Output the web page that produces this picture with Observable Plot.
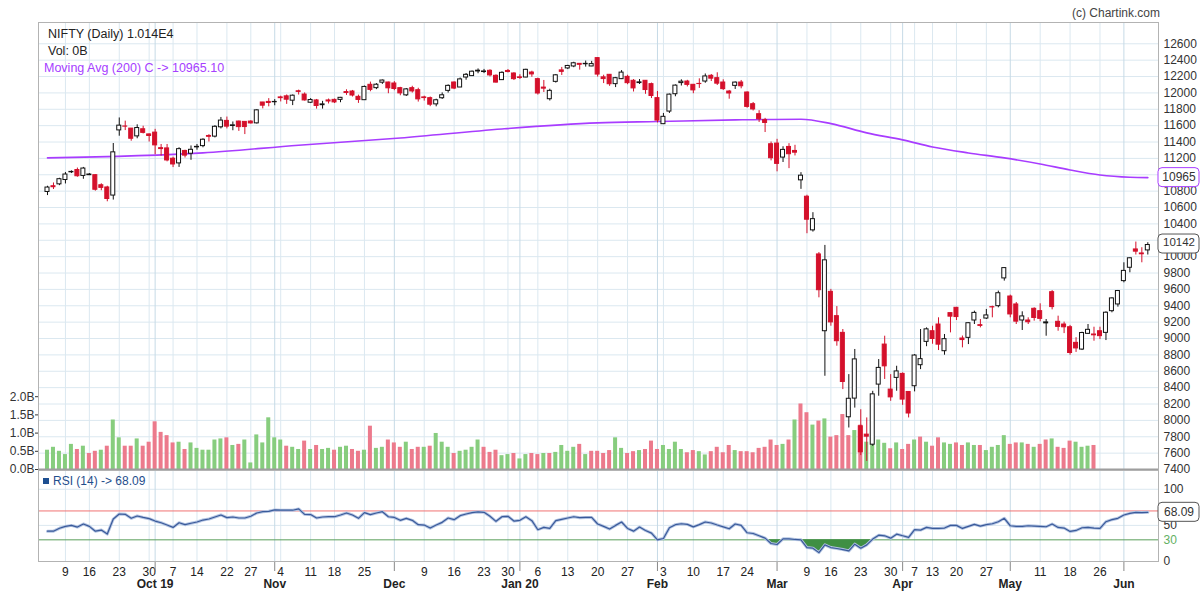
<!DOCTYPE html>
<html><head><meta charset="utf-8">
<script src="https://cdn.jsdelivr.net/npm/d3@7"></script>
<script src="https://cdn.jsdelivr.net/npm/@observablehq/plot@0.6"></script>
<style>
body{margin:0;background:#fff;font-family:"Liberation Sans",Arial,sans-serif;}
#wrap{position:relative;width:1200px;height:600px;overflow:hidden;background:#fff;}
#wrap svg{position:absolute;left:0;top:0;}
.lbl{position:absolute;font-size:12.5px;line-height:14px;white-space:nowrap;color:#222;}
</style></head><body>
<div id="wrap">
  <div class="lbl" style="right:40px;top:6px;font-size:12px;color:#444;">(c) Chartink.com</div>
  <div class="lbl" style="left:48px;top:27px;">NIFTY (Daily) 1.014E4</div>
  <div class="lbl" style="left:48px;top:44px;">Vol: 0B</div>
  <div class="lbl" style="left:44px;top:61px;color:#a640ff;">Moving Avg (200) C -&gt; 10965.10</div>
  <div class="sq" style="position:absolute;left:43px;top:478px;width:6px;height:6px;background:#1d4f91;"></div>
  <div class="lbl" style="left:53px;top:474px;font-size:12px;color:#1f4e8c;">RSI (14) -&gt; 68.09</div>
</div>
<script>
const dates = [
"2019-09-04","2019-09-05","2019-09-06","2019-09-09","2019-09-11","2019-09-12","2019-09-13","2019-09-16","2019-09-17","2019-09-18","2019-09-19","2019-09-20","2019-09-23","2019-09-24","2019-09-25","2019-09-26","2019-09-27","2019-09-30",
"2019-10-01","2019-10-03","2019-10-04","2019-10-07","2019-10-09","2019-10-10","2019-10-11","2019-10-14","2019-10-15","2019-10-16","2019-10-17","2019-10-18","2019-10-22","2019-10-23","2019-10-24","2019-10-25","2019-10-27","2019-10-29","2019-10-30","2019-10-31",
"2019-11-01","2019-11-04","2019-11-05","2019-11-06","2019-11-07","2019-11-08","2019-11-11","2019-11-13","2019-11-14","2019-11-15","2019-11-18","2019-11-19","2019-11-20","2019-11-21","2019-11-22","2019-11-25","2019-11-26","2019-11-27","2019-11-28","2019-11-29",
"2019-12-02","2019-12-03","2019-12-04","2019-12-05","2019-12-06","2019-12-09","2019-12-10","2019-12-11","2019-12-12","2019-12-13","2019-12-16","2019-12-17","2019-12-18","2019-12-19","2019-12-20","2019-12-23","2019-12-24","2019-12-26","2019-12-27","2019-12-30","2019-12-31",
"2020-01-01","2020-01-02","2020-01-03","2020-01-06","2020-01-07","2020-01-08","2020-01-09","2020-01-10","2020-01-13","2020-01-14","2020-01-15","2020-01-16","2020-01-17","2020-01-20","2020-01-21","2020-01-22","2020-01-23","2020-01-24","2020-01-27","2020-01-28","2020-01-29","2020-01-30","2020-01-31",
"2020-02-01","2020-02-03","2020-02-04","2020-02-05","2020-02-06","2020-02-07","2020-02-10","2020-02-11","2020-02-12","2020-02-13","2020-02-14","2020-02-17","2020-02-18","2020-02-19","2020-02-20","2020-02-24","2020-02-25","2020-02-26","2020-02-27","2020-02-28",
"2020-03-02","2020-03-03","2020-03-04","2020-03-05","2020-03-06","2020-03-09","2020-03-11","2020-03-12","2020-03-13","2020-03-16","2020-03-17","2020-03-18","2020-03-19","2020-03-20","2020-03-23","2020-03-24","2020-03-25","2020-03-26","2020-03-27","2020-03-30","2020-03-31",
"2020-04-01","2020-04-03","2020-04-07","2020-04-08","2020-04-09","2020-04-13","2020-04-15","2020-04-16","2020-04-17","2020-04-20","2020-04-21","2020-04-22","2020-04-23","2020-04-24","2020-04-27","2020-04-28","2020-04-29","2020-04-30",
"2020-05-04","2020-05-05","2020-05-06","2020-05-07","2020-05-08","2020-05-11","2020-05-12","2020-05-13","2020-05-14","2020-05-15","2020-05-18","2020-05-19","2020-05-20","2020-05-21","2020-05-22","2020-05-26","2020-05-27","2020-05-28","2020-05-29",
"2020-06-01","2020-06-02","2020-06-03","2020-06-04","2020-06-05"];

const openPx = [10790,10860,10883,10936,11030,11058,10986,10995,10995,10872,
10845,10746,11542,11590,11564,11469,11556,11493,11515,11325,
11322,11196,11139,11291,11257,11335,11350,11474,11466,11580,
11658,11596,11650,11646,11650,11628,11883,11890,11886,11945,
11958,11905,12020,11980,11880,11908,11850,11908,11915,11915,
12010,12017,11952,11911,12099,12058,12125,12127,12115,12058,
11970,12058,12033,11945,11936,11860,11935,12025,12127,12066,
12188,12205,12262,12255,12270,12209,12156,12268,12237,12190,
12188,12249,12168,12065,11923,12135,12275,12299,12323,12355,
12350,12323,12425,12190,12221,12107,12168,12196,12148,12120,
12148,12107,11936,11618,11772,11984,12120,12139,12099,12110,
12139,12209,12180,12127,12017,12086,12127,12005,11862,11740,
11667,11373,11381,11210,11340,11291,10932,10732,10321,10027,
9089,9570,9273,9069,8038,8266,7928,7826,7703,8437,
8926,8376,8519,8568,8347,8417,8674,8959,9089,9171,
8845,9310,9375,9000,9008,9220,9163,9244,9383,9395,
9734,9513,9416,9220,9220,9363,9334,9185,9566,9204,
9171,9138,8947,8865,9057,9049,9089,9069,9334,9416,
9701,9864,10088,10039,10076];

const highPx = [10860,10900,10957,11028,11048,11082,11090,11015,11000,10890,
10860,11382,11694,11655,11565,11610,11593,11498,11555,11370,
11370,11215,11330,11300,11352,11370,11440,11490,11600,11700,
11705,11645,11656,11646,11660,11795,11884,11930,11918,11960,
11975,11975,12034,12000,11930,11920,11897,11925,11925,11945,
12038,12030,11973,12084,12132,12114,12158,12132,12138,12068,
12054,12081,12057,11960,11950,11923,12000,12098,12134,12182,
12237,12268,12293,12287,12283,12221,12258,12286,12247,12222,
12289,12265,12180,12152,12045,12225,12311,12337,12374,12358,
12389,12385,12430,12216,12225,12189,12273,12216,12163,12163,
12150,12120,12017,11749,11986,12098,12160,12154,12103,12172,
12231,12225,12246,12160,12030,12134,12152,12012,11883,11783,
11689,11400,11433,11342,11380,11360,11026,10750,10537,10050,
10137,9600,9390,9110,8559,8866,8130,8030,8355,8743,
9028,8559,8661,8580,8350,8804,9110,9130,9150,9253,
9049,9310,9380,9030,9191,9334,9232,9355,9395,9579,
9864,9530,9440,9326,9253,9375,9424,9232,9585,9273,
9200,9160,9010,9077,9171,9138,9138,9326,9497,9587,
9925,9986,10178,10109,10170];

const lowPx = [10746,10820,10867,10888,11015,10970,10945,10990,10800,10805,
10670,10691,11471,11540,11410,11440,11499,11400,11245,11228,
11158,11088,11090,11205,11177,11300,11330,11400,11450,11560,
11560,11538,11530,11491,11620,11620,11805,11830,11843,11890,
11860,11845,11974,11900,11870,11802,11802,11865,11870,11880,
11970,11950,11872,11908,12014,12040,12104,11990,12027,11965,
11956,11998,11888,11900,11832,11830,11920,11998,12040,12066,
12155,12201,12234,12236,12195,12120,12152,12244,12151,12165,
12185,12191,11974,12005,11901,12120,12213,12285,12308,12278,
12315,12321,12193,12114,12080,12065,12163,12100,12011,12103,
11983,11931,11633,11614,11749,11953,12084,12073,11990,12055,
12118,12139,12091,12030,11923,12042,12050,11813,11779,11639,
11516,11170,11036,11150,11075,11230,10822,10280,10300,9497,
8539,9150,8906,8376,7907,8150,7570,7499,7683,8295,
8500,8233,8356,8184,8030,8348,8620,8900,8930,8853,
8796,9069,9220,8886,8926,9171,9130,9232,9253,9375,
9701,9253,9171,9098,9171,9212,9204,9028,9350,9089,
9060,8796,8830,8853,9049,8967,8987,8975,9314,9383,
9680,9803,10020,9925,10020];

const closePx = [10844,10848,10946,11003,11035,10982,11076,11003,10817,10840,
10704,11274,11600,11588,11440,11571,11512,11474,11359,11314,
11175,11126,11313,11234,11305,11341,11428,11464,11586,11662,
11588,11604,11582,11583,11627,11787,11844,11877,11890,11936,
11917,11966,12012,11908,11913,11840,11860,11895,11884,11940,
11999,11968,11914,12073,12037,12100,12151,12056,12048,11994,
12043,12018,11921,11937,11856,11910,11971,12086,12053,12165,
12221,12259,12271,12262,12214,12126,12245,12255,12168,12182,
12282,12226,11993,12052,12025,12215,12257,12329,12362,12343,
12355,12352,12224,12169,12106,12180,12248,12119,12055,12129,
12035,11962,11662,11708,11979,12089,12137,12098,12031,12108,
12201,12174,12113,12046,11993,12126,12081,11829,11798,11678,
11633,11202,11133,11304,11251,11270,10989,10451,10458,9590,
9955,9197,8967,8469,8264,8745,7610,7801,8318,8641,
8660,8281,8598,8254,8084,8792,8748,9112,8994,8925,
8992,9267,9262,8981,9187,9313,9154,9282,9380,9553,
9860,9294,9206,9270,9199,9251,9240,9197,9384,9142,
9137,8823,8879,9067,9106,9039,9029,9315,9490,9580,
9826,9980,10061,10029,10142];

// volume in billions (shown until 2020-05-22)
const volumeB = [0.53,0.61,0.50,0.41,0.69,0.55,0.64,0.44,0.50,0.53,
0.64,1.36,0.87,0.64,0.64,0.84,0.64,0.75,1.31,1.02,
0.93,0.73,0.75,0.55,0.73,0.58,0.53,0.53,0.81,0.84,
0.87,0.66,0.69,0.81,0.18,0.95,0.73,1.42,0.87,0.81,
0.64,0.61,0.55,0.78,0.55,0.66,0.55,0.58,0.53,0.61,
0.64,0.55,0.50,0.53,1.19,0.58,0.61,0.81,0.73,0.61,
0.75,0.55,0.61,0.61,0.64,0.99,0.75,0.61,0.44,0.50,
0.53,0.61,0.81,0.61,0.47,0.53,0.38,0.41,0.44,0.29,
0.41,0.44,0.41,0.44,0.44,0.47,0.66,0.50,0.61,0.69,
0.41,0.50,0.50,0.44,0.52,0.87,0.58,0.44,0.49,0.52,
0.55,0.78,0.55,0.66,0.55,0.75,0.55,0.46,0.52,0.49,
0.40,0.49,0.61,0.46,0.66,0.52,0.49,0.49,0.46,0.58,
0.61,0.81,0.66,0.69,0.81,1.36,1.80,1.56,1.22,1.33,
1.39,0.89,0.93,1.51,0.93,1.07,1.22,0.75,0.87,0.81,
0.72,0.57,0.73,0.55,0.69,0.81,0.89,0.75,0.64,0.87,
0.73,0.69,0.73,0.66,0.73,0.66,0.66,0.52,0.61,0.66,
0.93,0.69,0.73,0.73,0.69,0.61,0.69,0.81,0.84,0.61,
0.58,0.78,0.75,0.61,0.64,0.66];

const rsi14 = [42,42,46,48.6,50,47.7,51.9,48.6,42,43.5,
38,58.8,65.8,65.3,59.8,63,61,59.3,56,53.7,
50.5,47.2,53.7,51,53,54.7,57.4,58.8,61.6,64.4,
60.7,61.6,60.2,60.2,62.6,67.2,69,69.5,71.4,71,
71,71,72.8,65.3,65,60.2,61.6,62,62,64.4,
67.2,64.4,59.8,67.7,65,67.2,69,62,61,57,
59.8,57,51,50.5,46.3,50.5,54.2,60.2,57.9,63.5,
65.8,67.7,68.6,68.1,62.6,55.6,62,62.6,56,57,
62,56.5,44,47.2,45.8,56.5,58.4,60.2,62,60.7,
61,61,51.9,48.6,44.9,50,54.7,45.8,42,47.7,
43,39.3,30,31.9,46.7,51,52.3,51.4,48,51,
54.7,53.3,50.5,48,45.3,51.9,50,39.8,38.8,35.6,
32.3,24.9,23.5,31.4,31.4,30.5,30,19.3,18.4,12.3,
23,19.3,18,16.5,14.7,24,18.4,23,31,36.5,
35.6,32.3,37.9,35.6,33.3,44,43.5,47.2,45.8,45.8,
46.3,50,50,45.8,48.6,51.4,49,51,52.3,55.1,
59.8,49.5,48.6,48.6,49.5,49,48.6,48.1,51.9,47.2,
46.3,41.6,43,46.7,47.2,46.3,45.8,55.1,57.9,59.8,
64.4,66.7,68.1,67.7,68.09];

const maDates = ["2019-09-04","2019-10-15","2019-11-07","2019-12-03","2019-12-27","2020-01-20","2020-02-01","2020-02-19","2020-03-06","2020-03-16","2020-03-24","2020-04-01","2020-04-13","2020-04-22","2020-04-30","2020-05-11","2020-05-18","2020-05-26","2020-06-02","2020-06-05"];
const maValues = [11206,11267,11361,11450,11560,11634,11650,11670,11679,11625,11512,11426,11340,11267,11206,11132,11059,10998,10970,10965.10];

const priceTicks = [7400,7600,7800,8000,8200,8400,8600,8800,9000,9200,9400,9600,9800,10000,10200,10400,10600,10800,11000,11200,11400,11600,11800,12000,12200,12400,12600];
// labels hidden under the value badges in the reference (11000, 10200) are not printed
const priceLabelTicks = [7400,7600,7800,8000,8200,8400,8600,8800,9000,9200,9400,9600,9800,10000,10400,10600,10800,11200,11400,11600,11800,12000,12200,12400,12600];
const volumeTicks = [0,0.5,1,1.5,2];
const rsiTicks = [0,50,100];
const weekTicks = ["2019-09-09","2019-09-16","2019-09-23","2019-09-30","2019-10-07","2019-10-14","2019-10-22","2019-10-27","2019-11-04","2019-11-11","2019-11-18","2019-11-25","2019-12-09","2019-12-16","2019-12-23","2019-12-30","2020-01-06","2020-01-13","2020-01-20","2020-01-27","2020-02-03","2020-02-10","2020-02-17","2020-02-24","2020-03-09","2020-03-16","2020-03-23","2020-03-30","2020-04-07","2020-04-13","2020-04-20","2020-04-27","2020-05-11","2020-05-18","2020-05-26"];
const monthTicks = ["2019-10-01","2019-11-01","2019-12-02","2020-01-01","2020-02-01","2020-03-02","2020-04-01","2020-05-04","2020-06-01"];
const monthLabels = ["Oct 19","Nov","Dec","Jan 20","Feb","Mar","Apr","May","Jun"];
const lastClose = 10142, lastMA = 10965.10, lastRSI = 68.09;

// ---- build tables ----
const candles = dates.map((date, i) => ({date, open: openPx[i], high: highPx[i], low: lowPx[i], close: closePx[i], up: closePx[i] >= openPx[i]}));
const volumes = volumeB.map((v, i) => ({date: dates[i], v, up: i === 0 || closePx[i] >= closePx[i - 1]}));
const rsiData = dates.map((date, i) => ({date, rsi: rsi14[i]}));
const maData = maDates.map((date, i) => ({date, ma: maValues[i]}));

const RED = "#d4102b", VGREEN = "#87cd7e", VRED = "#ec7a8c", PURPLE = "#a83cff";
const GRID = "#dbe8f0", GRIDM = "#c6dae6", FRAME = "#b3b3b3";
const wrap = document.getElementById("wrap");
const style = {background: "transparent", fontFamily: '"Liberation Sans", Arial, sans-serif', fontSize: "12px", color: "#333", overflow: "visible"};
const xs = (extra = {}) => ({type: "band", domain: dates, paddingInner: 0.33, paddingOuter: 1.31, align: 0.446, round: false, label: null, ...extra});
const priceY = (extra = {}) => ({domain: [7400, 12860], label: null, ...extra});
const M = {width: 1200, height: 600, marginLeft: 38, marginRight: 42};
function place(el) { wrap.appendChild(el); }

// 1. price panel: grid, right axis, frame
place(Plot.plot({...M, marginTop: 22, marginBottom: 131, style,
  x: xs({axis: null}), y: priceY(),
  marks: [
    Plot.ruleY(priceTicks, {stroke: GRID}),
    Plot.ruleX(weekTicks, {stroke: GRID}),
    Plot.ruleX(monthTicks, {stroke: GRIDM}),
    Plot.axisY({anchor: "right", ticks: priceLabelTicks, tickSize: 0, tickPadding: 5, tickFormat: d3.format("d"), label: null, fill: "#333"}),
    Plot.frame({stroke: FRAME})
  ]
}));

// 2. volume bars
place(Plot.plot({...M, marginTop: 378, marginBottom: 131, style,
  x: xs({axis: null}), y: {domain: [0, 2.5], label: null},
  marks: [
    Plot.barY(volumes.filter(d => d.up), {x: "date", y: "v", fill: VGREEN}),
    Plot.barY(volumes.filter(d => !d.up), {x: "date", y: "v", fill: VRED}),
    Plot.ruleY([0], {stroke: "#9e9e9e", strokeWidth: 2}),
    Plot.axisY({anchor: "left", ticks: volumeTicks, tickSize: 3, tickPadding: 1, tickFormat: d => d.toFixed(1) + "B", label: null, fill: "#333"})
  ]
}));

// 3. moving average + candles
place(Plot.plot({...M, marginTop: 22, marginBottom: 131, style,
  x: xs({axis: null}), y: priceY({axis: null}),
  marks: [
    Plot.line(maData, {x: "date", y: "ma", stroke: PURPLE, strokeWidth: 1.6, curve: "monotone-x"}),
    Plot.ruleX(candles.filter(d => d.up), {x: "date", y1: "low", y2: "high", stroke: "#111", strokeWidth: 1}),
    Plot.ruleX(candles.filter(d => !d.up), {x: "date", y1: "low", y2: "high", stroke: RED, strokeWidth: 1}),
    Plot.barY(candles.filter(d => d.up), {x: "date", y1: "open", y2: "close", fill: "#fff", stroke: "#111", strokeWidth: 1}),
    Plot.barY(candles.filter(d => !d.up), {x: "date", y1: "open", y2: "close", fill: RED, stroke: RED, strokeWidth: 1})
  ]
}));

// 4. RSI panel
place(Plot.plot({...M, marginTop: 470, marginBottom: 39, style,
  x: xs(), y: {domain: [0, 126], label: null},
  marks: [
    Plot.ruleY([100, 50], {stroke: GRID}),
    Plot.ruleX(weekTicks, {stroke: GRID}),
    Plot.ruleX(monthTicks, {stroke: GRIDM}),
    Plot.ruleY([70], {stroke: "#f07272"}),
    Plot.ruleY([30], {stroke: "#5a9e5a"}),
    Plot.areaY(rsiData, {x: "date", y1: d => Math.min(d.rsi, 30), y2: () => 30, fill: "#3f8f43"}),
    Plot.line(rsiData, {x: "date", y: "rsi", stroke: "#b3c4e2", strokeWidth: 3}),
    Plot.line(rsiData, {x: "date", y: "rsi", stroke: "#3a5a9a", strokeWidth: 1.2}),
    Plot.axisY({anchor: "right", ticks: rsiTicks, tickSize: 0, tickPadding: 5, label: null, fill: "#333"}),
    Plot.axisY({anchor: "right", ticks: [30], tickSize: 0, tickPadding: 5, label: null, fill: "#62b062"}),
    Plot.axisX({ticks: weekTicks, tickFormat: d => String(+d.slice(8)), tickSize: 0, tickPadding: 6, label: null, fill: "#222"}),
    Plot.axisX({ticks: monthTicks, tickFormat: d => monthLabels[monthTicks.indexOf(d)], tickSize: 10, tickPadding: 8, label: null, fontWeight: "bold", fill: "#222", stroke: "#888"}),
    Plot.frame({stroke: FRAME})
  ]
}));

// 5. value badges on the right axis
place(Plot.plot({width: 1200, height: 600, marginTop: 22, marginBottom: 131, marginLeft: 1158, marginRight: 1, style,
  y: priceY({axis: null}),
  marks: [
    Plot.rect([lastMA], {y1: d => d, y2: d => d, insetTop: -9.5, insetBottom: -9.5, rx: 4, fill: "#fff", stroke: PURPLE}),
    Plot.text([lastMA], {y: d => d, text: d => String(Math.trunc(d)), fill: "#333", fontSize: 12}),
    Plot.rect([lastClose], {y1: d => d, y2: d => d, insetTop: -10.5, insetBottom: -8.5, rx: 4, fill: "#fff", stroke: "#555"}),
    Plot.text([lastClose], {y: d => d, dy: -2.5, text: d => String(Math.trunc(d)), fill: "#333", fontSize: 11.5})
  ]
}));
place(Plot.plot({width: 1200, height: 600, marginTop: 470, marginBottom: 39, marginLeft: 1158, marginRight: 1, style,
  y: {domain: [0, 126], axis: null},
  marks: [
    Plot.rect([lastRSI], {y1: d => d, y2: d => d, insetTop: -9.5, insetBottom: -9.5, rx: 4, fill: "#fff", stroke: "#555"}),
    Plot.text([lastRSI], {y: d => d, text: d => d.toFixed(2), fill: "#333", fontSize: 12})
  ]
}));

// keep the HTML legend texts above the SVG layers
wrap.querySelectorAll(".lbl, .sq").forEach(el => wrap.appendChild(el));
</script>
</body></html>
